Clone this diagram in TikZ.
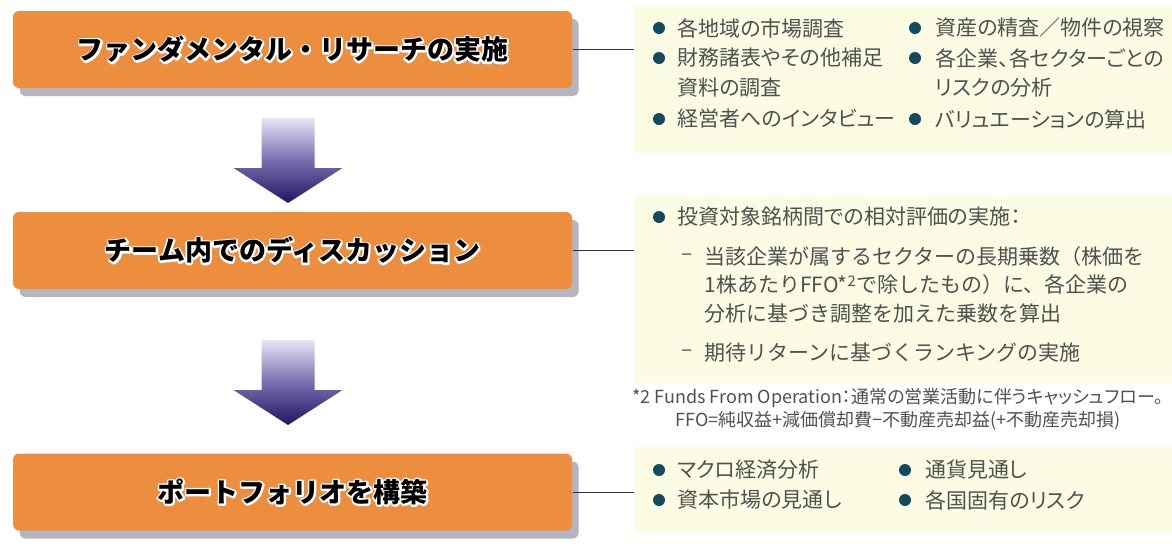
\documentclass[tikz,border=0pt]{standalone}
\usepackage{fontspec}
\usetikzlibrary{shadows}
\setmainfont{Noto Sans CJK JP}[RawFeature=+palt]
\newfontfamily\titlefont{Noto Sans CJK JP}
\newfontfamily\widefont{Noto Sans CJK JP}
% white halo behind the step titles: stroked copy, then the filled text
\newcommand\halotext[1]{\leavevmode\rlap{\special{pdf:literal direct 1 Tr 2.8 w 1 1 1 RG 1 j}#1\special{pdf:literal direct 0 Tr}}#1}

\definecolor{boxorange}{RGB}{236,142,62}
\definecolor{panelyellow}{RGB}{252,252,228}
\definecolor{dotteal}{RGB}{20,74,94}
\definecolor{textgray}{RGB}{80,80,80}
\definecolor{shadowgray}{RGB}{120,118,140}
\definecolor{arrowlight}{RGB}{232,228,246}
\definecolor{arrowmid}{RGB}{120,110,175}
\definecolor{arrowdark}{RGB}{30,22,100}

\tikzset{every picture/.style={line width=0.75pt}}
\tikzset{
  stepbox/.style={fill=boxorange, rounded corners=4.5pt, minimum width=419.25pt, minimum height=57.75pt,
    inner sep=0pt, font=\titlefont\bfseries\fontsize{20.25}{24}\selectfont,
    drop shadow={shadow xshift=5pt, shadow yshift=-6pt, fill=shadowgray, opacity=0.55}},
  panel/.style={fill=panelyellow, minimum width=403.5pt, inner sep=0pt},
  item/.style={anchor=west, inner sep=0pt, text=textgray, font=\fontsize{15.75}{19}\selectfont},
  wideitem/.style={item, font=\widefont\fontsize{15.75}{19}\selectfont},
  note/.style={inner sep=0pt, text=textgray, font=\fontsize{13.5}{16}\selectfont},
  dot/.style={circle, fill=dotteal, minimum size=9pt, inner sep=0pt},
  connector/.style={draw=black!80, line width=0.75pt},
  pics/flowarrow/.style={code={
    \shade[top color=arrowlight, bottom color=arrowdark, middle color=arrowmid]
      (-26.5,0) -- (26.5,0) -- (26.5,-50) -- (54.5,-50) -- (0,-85) -- (-54.5,-50) -- (-26.5,-50) -- cycle;
  }}
}

\begin{document}
\begin{tikzpicture}[x=0.75pt,y=0.75pt,yscale=-1,xscale=1]
\useasboundingbox (0,0) rectangle (1172,551);

%Steps
\node[stepbox] (research) at (292.5,49.5) {\halotext{ファンダメンタル・リサーチの実施}};
\node[stepbox] (discuss) at (292.5,250.5) {\halotext{チーム内でのディスカッション}};
\node[stepbox] (build) at (292.5,492) {\halotext{ポートフォリオを構築}};

%Arrows between steps
\pic at (288,118) {flowarrow};
\pic at (288,340) {flowarrow};

%Panels
\node[panel, minimum height=111pt] (panelA) at (903,79) {};
\node[panel, minimum height=140.25pt] (panelB) at (903,289.5) {};
\node[panel, minimum height=63.75pt] (panelC) at (903,489.5) {};

%Connectors
\draw[connector] (research.east) -- (research.east -| panelA.west);
\draw[connector] (discuss.east) -- (discuss.east -| panelB.west);
\draw[connector] (build.east) -- (build.east -| panelC.west);

%Panel A
\node[dot] (dotA1) at (659,28) {};
\node[item] (itemA1) at (677,28) {各地域の市場調査};
\node[dot] (dotA2) at (659,58) {};
\node[item] (itemA2) at (677,58) {財務諸表やその他補足};
\node[item] (itemA2b) at (677,88) {資料の調査};
\node[dot] (dotA3) at (659,119) {};
\node[item] (itemA3) at (677,119) {経営者へのインタビュー};
\node[dot] (dotA4) at (915,28) {};
\node[item] (itemA4) at (935,28) {資産の精査／物件の視察};
\node[dot] (dotA5) at (915,58) {};
\node[item] (itemA5) at (935,58) {各企業、各セクターごとの};
\node[item] (itemA5b) at (935,88) {リスクの分析};
\node[dot] (dotA6) at (915,119) {};
\node[item] (itemA6) at (935,119) {バリュエーションの算出};

%Panel B
\node[dot] (dotB1) at (659,217) {};
\node[item] (itemB1) at (677,217) {投資対象銘柄間での相対評価の実施：};
\node[item] (dashB1) at (681,257) {–};
\node[wideitem] (itemB2) at (704,257) {当該企業が属するセクターの長期乗数（株価を};
\node[wideitem] (itemB2b) at (704,285) {1株あたりFFO*\textsuperscript{2}で除したもの）に、各企業の};
\node[wideitem] (itemB2c) at (704,314) {分析に基づき調整を加えた乗数を算出};
\node[item] (dashB2) at (681,353) {–};
\node[wideitem] (itemB3) at (704,353) {期待リターンに基づくランキングの実施};

%Footnote
\node[note] (noteA) at (898,398) {*2 Funds From Operation：通常の営業活動に伴うキャッシュフロー。};
\node[note] (noteB) at (898,421) {FFO=純収益+減価償却費−不動産売却益(+不動産売却損)};

%Panel C
\node[dot] (dotC1) at (659,470) {};
\node[item] (itemC1) at (677,470) {マクロ経済分析};
\node[dot] (dotC2) at (659,500) {};
\node[item] (itemC2) at (677,500) {資本市場の見通し};
\node[dot] (dotC3) at (905,470) {};
\node[item] (itemC3) at (925,470) {通貨見通し};
\node[dot] (dotC4) at (905,500) {};
\node[item] (itemC4) at (925,500) {各国固有のリスク};

\end{tikzpicture}
\end{document}
